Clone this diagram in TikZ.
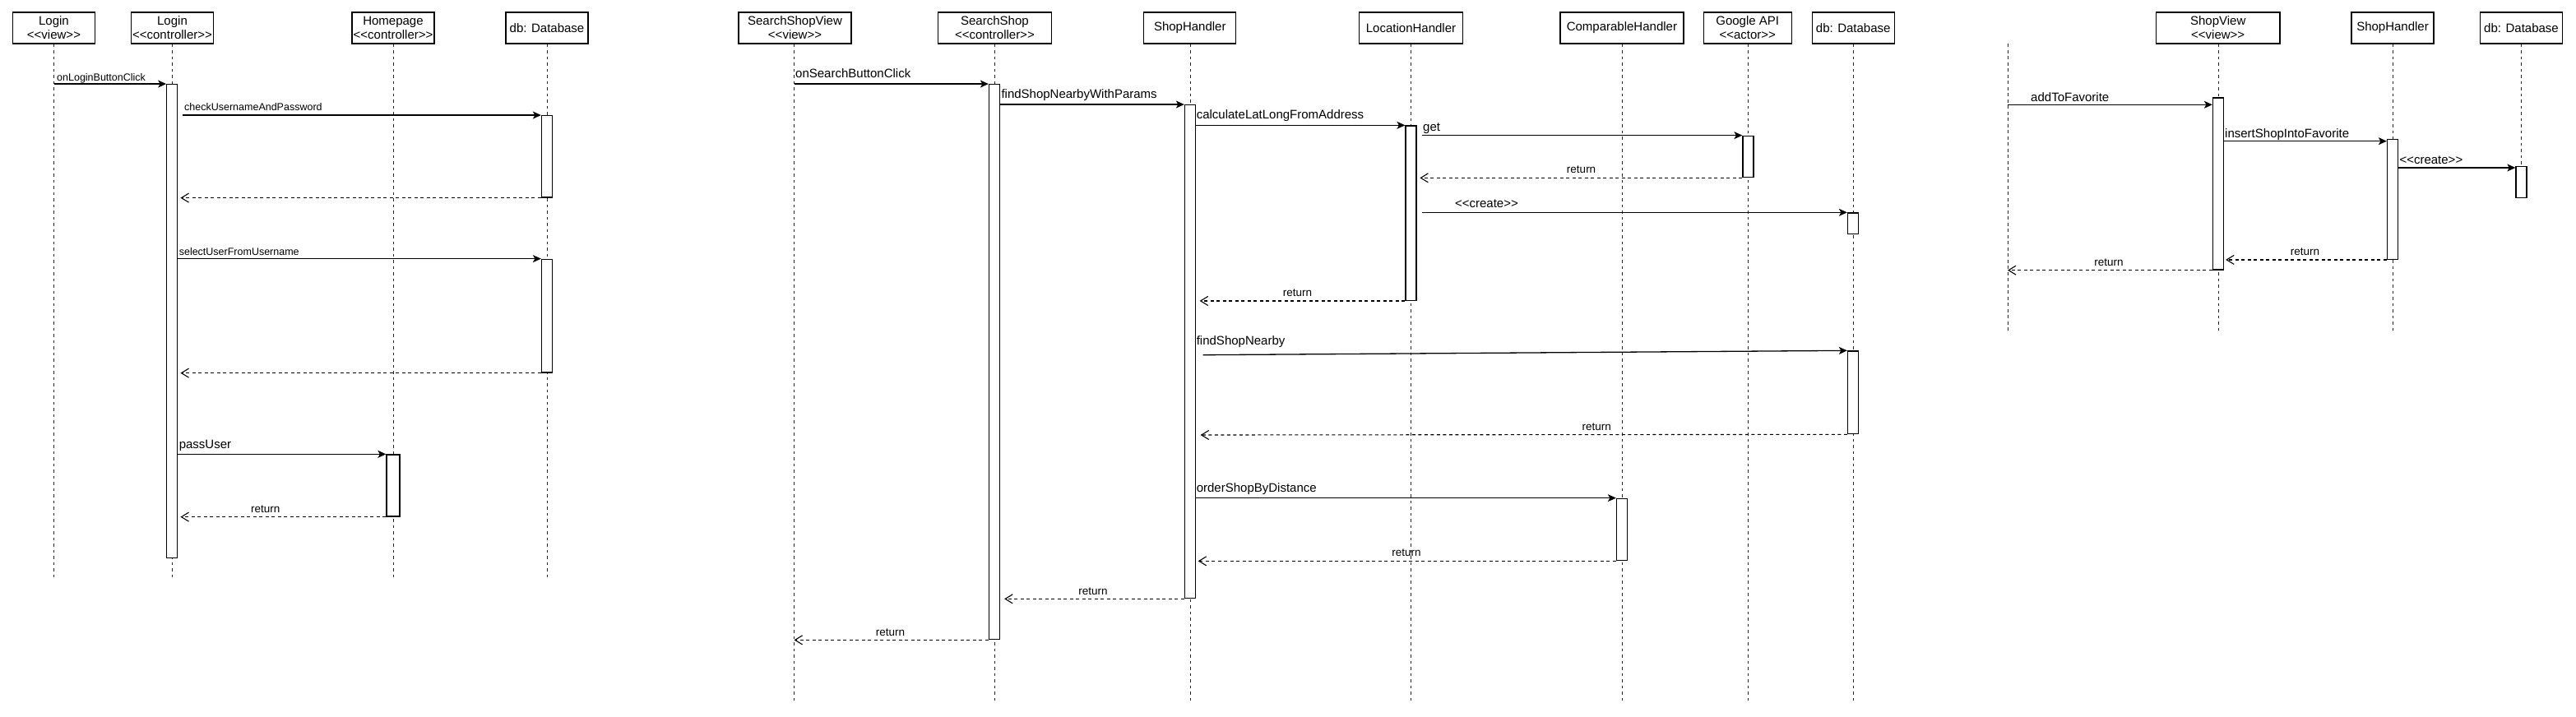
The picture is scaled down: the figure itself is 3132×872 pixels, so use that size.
\documentclass[tikz,border=0pt]{standalone}
\usepackage{fontspec}
\setmainfont{Liberation Sans}
\usetikzlibrary{arrows.meta,calc}
\newcommand{\sqbig}{\fontsize{15}{17}\selectfont}
\newcommand{\sqret}{\fontsize{13.5}{15}\selectfont}
\newcommand{\sqsmall}{\fontsize{12.5}{14}\selectfont}
\newcommand{\stlt}{<\kern0pt<}
\newcommand{\stgt}{>\kern0pt>}
\tikzset{
  obj/.style={draw, line width=1.3pt, minimum height=38pt, inner sep=0pt, align=center, font=\sqbig},
  act/.style={draw, fill=white, line width=1.3pt, minimum width=13pt, inner sep=0pt},
  life/.style={line width=0.95pt, draw=black!85, dash pattern=on 3.75pt off 3.75pt},
  msg/.style={line width=1.3pt, -{Stealth[length=10pt,width=9pt,inset=2.5pt]}},
  ret/.style={line width=1.1pt, dash pattern=on 4pt off 3.5pt, -{Straight Barb[length=9pt,width=11pt,line width=1.1pt]}},
  lbl/.style={inner sep=0pt, font=\sqbig},
  rlbl/.style={inner sep=0pt, font=\sqret},
  slbl/.style={inner sep=0pt, font=\sqsmall},
}
\begin{document}
\begin{tikzpicture}[x=1pt,y=-1pt]
\useasboundingbox (0,0) rectangle (3132,872);
\fill[white] (0,0) rectangle (3132,872);

% ---------------- Section 1 ----------------
\node[obj, minimum width=100pt] (loginV) at (65.5,34) {Login\\\stlt view\stgt};
\node[obj, minimum width=100pt] (loginC) at (209.5,34) {Login\\\stlt controller\stgt};
\node[obj, minimum width=100pt] (home) at (478,34) {Homepage\\\stlt controller\stgt};
\node[obj, minimum width=100pt] (dbA) at (665,34) {db: Database};

\coordinate (loginVe) at (65.5,703);
\coordinate (loginCe) at (209.5,703);
\coordinate (homee) at (478,703);
\coordinate (dbAe) at (665,703);
\draw[life] (loginV.south) -- (loginVe);
\draw[life] (loginC.south) -- (loginCe);
\draw[life] (home.south) -- (homee);
\draw[life] (dbA.south) -- (dbAe);

\node[act, minimum height=575.6pt] (aLC) at (209.3,390.5) {};
\node[act, minimum height=99.3pt] (aDB1) at (665,190.35) {};
\node[act, minimum height=137.7pt] (aDB2) at (665,384.15) {};
\node[act, minimum width=16pt, minimum height=75pt] (aHome) at (478,590.5) {};

\draw[msg] (loginV.south |- aLC.north west) -- (aLC.north west);
\node[slbl, anchor=base west] (l1) at (69,98.5) {onLoginButtonClick};

\draw[msg] ($(aLC.east |- aDB1.north west)+(5.3,0)$) -- (aDB1.north west);
\node[slbl, anchor=base west] (l2) at (224,135) {checkUsernameAndPassword};

\draw[ret] (aDB1.south west) -- ($(aLC.east |- aDB1.south west)+(3,0)$);

\draw[msg] (aLC.east |- aDB2.north west) -- (aDB2.north west);
\node[slbl, anchor=base west] (l3) at (217.6,310) {selectUserFromUsername};

\draw[ret] (aDB2.south west) -- ($(aLC.east |- aDB2.south west)+(3,0)$);

\draw[msg] (aLC.east |- aHome.north west) -- (aHome.north west);
\node[lbl, anchor=base west] (l4) at (217.6,545) {passUser};

\draw[ret] (aHome.south west) -- ($(aLC.east |- aHome.south west)+(3,0)$);
\node[rlbl, anchor=base] (l5) at (322.8,623.3) {return};

% ---------------- Section 2 ----------------
\node[obj, minimum width=137pt] (ssv) at (966.5,34) {SearchShopView\\\stlt view\stgt};
\node[obj, minimum width=138pt] (ssc) at (1209.4,34) {SearchShop\\\stlt controller\stgt};
\node[obj, minimum width=112pt] (sh) at (1446.8,34) {ShopHandler};
\node[obj, minimum width=126pt] (lh) at (1715.5,34) {LocationHandler};
\node[obj, minimum width=150pt] (ch) at (1971.9,34) {ComparableHandler};
\node[obj, minimum width=107pt] (gapi) at (2124.7,34) {Google API\\\stlt actor\stgt};
\node[obj, minimum width=100pt] (dbB) at (2253.2,34) {db: Database};

\coordinate (ssve) at (965.5,853);
\coordinate (ssce) at (1209,853);
\coordinate (she) at (1447,853);
\coordinate (lhe) at (1715.5,853);
\coordinate (che) at (1972,853);
\coordinate (gapie) at (2125.3,853);
\coordinate (dbBe) at (2253,853);
\draw[life] (ssv.south -| ssve) -- (ssve);
\draw[life] (ssc.south -| ssce) -- (ssce);
\draw[life] (sh.south -| she) -- (she);
\draw[life] (lh.south -| lhe) -- (lhe);
\draw[life] (ch.south -| che) -- (che);
\draw[life] (gapi.south -| gapie) -- (gapie);
\draw[life] (dbB.south -| dbBe) -- (dbBe);

\node[act, minimum height=675pt] (aSSC) at (1209,440.2) {};
\node[act, minimum height=600pt] (aSH) at (1447,427.7) {};
\node[act, minimum height=212.3pt] (aLH) at (1715.5,259.15) {};
\node[act, minimum height=50.4pt] (aG) at (2125.5,190.5) {};
\node[act, minimum height=25.3pt] (aDBa) at (2253,271.65) {};
\node[act, minimum height=100.7pt] (aDBb) at (2253,477.35) {};
\node[act, minimum height=75.4pt] (aCH) at (1972,644) {};

\draw[msg] (ssve |- aSSC.north west) -- (aSSC.north west);
\node[lbl, anchor=base west] (m1) at (967,95) {onSearchButtonClick};

\draw[msg] (aSSC.east |- aSH.north west) -- (aSH.north west);
\node[lbl, anchor=base west] (m2) at (1217.3,120) {findShopNearbyWithParams};

\draw[msg] (aSH.east |- aLH.north west) -- (aLH.north west);
\node[lbl, anchor=base west] (m3) at (1454.6,145) {calculateLatLongFromAddress};

\draw[msg] ($(aLH.east |- aG.north west)+(6.4,0)$) -- (aG.north west);
\node[lbl, anchor=base west] (m4) at (1730,159.5) {get};

\draw[ret] (aG.south west) -- ($(aLH.east |- aG.south west)+(3.7,0)$);
\node[rlbl, anchor=base] (m5) at (1922.6,210) {return};

\draw[msg] ($(aLH.east |- aDBa.north west)+(6.4,0)$) -- (aDBa.north west);
\node[lbl, anchor=base] (m6) at (1807.4,252.7) {\stlt create\stgt};

\draw[ret] (aLH.south west) -- ($(aSH.east |- aLH.south west)+(4.5,0)$);
\node[rlbl, anchor=base] (m7) at (1577.5,360) {return};

\draw[msg] ($(aSH.east |- 0,431.7)+(8.5,0)$) -- (aDBb.north west);
\node[lbl, anchor=base west] (m8) at (1454.6,419.5) {findShopNearby};

\draw[ret] (aDBb.south west) -- ($(aSH.east |- 0,529)+(5.5,0)$);
\node[rlbl, anchor=base] (m9) at (1941.3,523.3) {return};

\draw[msg] (aSH.east |- aCH.north west) -- (aCH.north west);
\node[lbl, anchor=base west] (m10) at (1454.6,598.5) {orderShopByDistance};

\draw[ret] (aCH.south west) -- ($(aSH.east |- aCH.south west)+(2.5,0)$);
\node[rlbl, anchor=base] (m11) at (1710,676) {return};

\draw[ret] (aSH.south west) -- ($(aSSC.east |- aSH.south west)+(5,0)$);
\node[rlbl, anchor=base] (m12) at (1329,723.3) {return};

\draw[ret] (aSSC.south west) -- (ssve |- aSSC.south west);
\node[rlbl, anchor=base] (m13) at (1082.6,773.3) {return};

% ---------------- Section 3 ----------------
\coordinate (lfT) at (2441,53.3);
\coordinate (lfB) at (2441,402.7);
\node[obj, minimum width=150.7pt] (sv) at (2696.7,34) {ShopView\\\stlt view\stgt};
\node[obj, minimum width=100pt] (shC) at (2909,34) {ShopHandler};
\node[obj, minimum width=100pt] (dbC) at (3065.5,34) {db: Database};

\coordinate (sve) at (2697,402.7);
\coordinate (shCe) at (2909,402.7);
\draw[life] (lfT) -- (lfB);
\draw[life] (sv.south -| sve) -- (sve);
\draw[life] (shC.south -| shCe) -- (shCe);
\coordinate (dbCl) at (3065.5,202.3);
\draw[life] (dbC.south) -- (dbCl);

\node[act, minimum height=209pt] (aSV) at (2697,223.5) {};
\node[act, minimum height=146pt] (aSH3) at (2909,242.3) {};
\node[act, minimum height=38.4pt] (aDB3) at (3065.5,221.5) {};

\draw[msg] (lfT |- 0,127.3) -- (aSV.west |- 0,127.3);
\node[lbl, anchor=base west] (n1) at (2469,124) {addToFavorite};

\draw[msg] (aSV.east |- 0,171.7) -- (aSH3.west |- 0,171.7);
\node[lbl, anchor=base west] (n2) at (2705,167.3) {insertShopIntoFavorite};

\draw[msg] (aSH3.east |- 0,204) -- (aDB3.west |- 0,204);
\node[lbl, anchor=base west] (n3) at (2917.3,199) {\stlt create\stgt};

\draw[ret] (aSH3.south west) -- ($(aSV.east |- aSH3.south west)+(2,0)$);
\node[rlbl, anchor=base] (n4) at (2802.4,310) {return};

\draw[ret] (aSV.south west) -- (lfT |- aSV.south west);
\node[rlbl, anchor=base] (n5) at (2564,323.3) {return};
\end{tikzpicture}
\end{document}
